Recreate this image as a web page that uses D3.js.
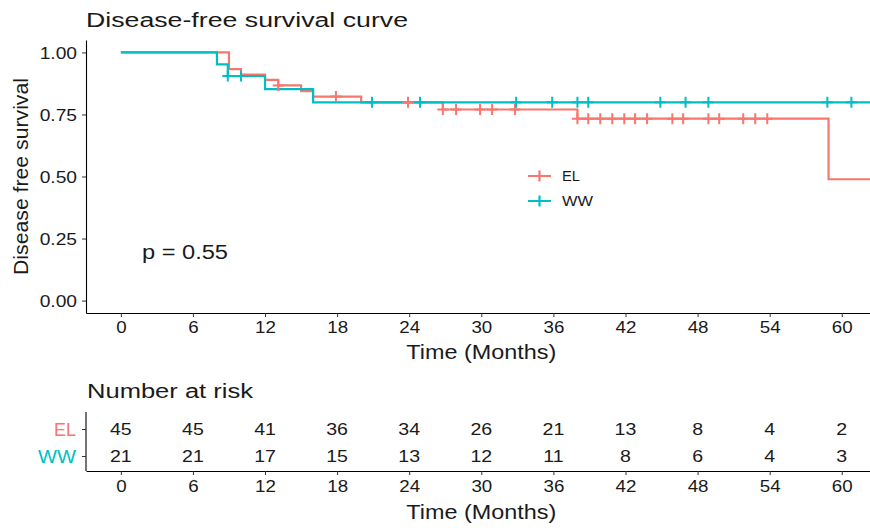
<!DOCTYPE html>
<html><head><meta charset="utf-8">
<script src="https://cdn.jsdelivr.net/npm/d3@7"></script>
<style>body{margin:0;background:#fff}svg{display:block}text{font-family:"Liberation Sans",Arial,sans-serif}</style>
</head><body>
<svg id="c" width="870" height="531"></svg>
<script>
// ---- data ----
const groups = ["EL", "WW"];
const colors = ["#F8766D", "#00BFC4"];
const elTimes = [0, 9, 10, 12, 13.1, 15, 16, 20, 26.8, 38, 58.9];
const elSurv  = [1, 0.933, 0.911, 0.889, 0.867, 0.844, 0.822, 0.799, 0.770, 0.733, 0.489];
const wwTimes = [0, 8, 8.9, 12, 16];
const wwSurv  = [1, 0.952, 0.905, 0.852, 0.799];
const elCensor = [13.1, 17.9, 23.9, 26.8, 27.9, 29.9, 30.9, 32.8, 38, 38.9, 39.9, 40.9, 41.9, 42.8, 43.8, 45.9, 46.8, 48.9, 49.8, 51.8, 52.8, 53.8];
const wwCensor = [8.9, 10, 20.9, 24.9, 32.9, 35.9, 38, 38.9, 44.9, 47, 48.9, 58.8, 60.8];
const riskTimes = [0, 6, 12, 18, 24, 30, 36, 42, 48, 54, 60];
const elRisk = [45, 45, 41, 36, 34, 26, 21, 13, 8, 4, 2];
const wwRisk = [21, 21, 17, 15, 13, 12, 11, 8, 6, 4, 3];
const yTicks = [0, 0.25, 0.5, 0.75, 1];
const tEnd = 62.5;
const pText = "p = 0.55";

const svg = d3.select("#c");
const L = 86, R = 870, T = 40, B = 313;
const x = d3.scaleLinear().domain([-2.9, 62.35]).range([L, R]);
const y = d3.scaleLinear().domain([-0.05, 1.05]).range([B, T]);
const ink = "#1a1a1a";

// stretch text horizontally to mimic the wider reference rendering
function stretch(sel, k) {
  sel.each(function () {
    const w = this.getComputedTextLength();
    d3.select(this).attr("textLength", w * k).attr("lengthAdjust", "spacingAndGlyphs");
  });
}
function txt(str, px, py, size, width, anchor) {
  return svg.append("text").attr("x", px).attr("y", py).attr("font-size", size)
    .attr("fill", ink).attr("text-anchor", anchor || "start")
    .attr("textLength", width).attr("lengthAdjust", "spacingAndGlyphs").text(str);
}

// title
txt("Disease-free survival curve", 86, 27, 19.5, 322);

// axes
const gx = svg.append("g").attr("transform", `translate(0,${B})`)
  .call(d3.axisBottom(x).tickValues(riskTimes).tickSize(4).tickPadding(5).tickSizeOuter(0));
const gy = svg.append("g").attr("transform", `translate(${L},0)`)
  .call(d3.axisLeft(y).tickValues(yTicks).tickFormat(d3.format(".2f")).tickSize(4).tickPadding(5).tickSizeOuter(0));
[gx, gy].forEach(g => {
  g.select(".domain").attr("stroke", "#000").attr("stroke-width", 1.1);
  g.selectAll(".tick line").attr("stroke", "#333");
  g.selectAll(".tick text").attr("font-size", 16).attr("fill", ink).attr("font-family", "Liberation Sans, Arial, sans-serif");
});
gy.selectAll(".tick text").attr("dy", "0.36em");
stretch(gx.selectAll(".tick text"), 1.17);
stretch(gy.selectAll(".tick text"), 1.2);
txt("Time (Months)", (x(0) + x(60)) / 2, 359, 19.5, 150, "middle");
svg.append("text").attr("transform", `translate(28,${(T + B) / 2}) rotate(-90)`)
  .attr("text-anchor", "middle").attr("font-size", 21).attr("fill", ink)
  .attr("textLength", 197).attr("lengthAdjust", "spacingAndGlyphs").text("Disease free survival");

// curves
svg.append("clipPath").attr("id", "clp").append("rect").attr("x", L).attr("y", T - 5).attr("width", R - L).attr("height", B - T + 5);
const plot = svg.append("g").attr("clip-path", "url(#clp)");
function stepPts(ts, ss) {
  const pts = ts.map((t, i) => [t, ss[i]]);
  pts.push([tEnd, ss[ss.length - 1]]);
  return pts;
}
const line = d3.line().x(d => x(d[0])).y(d => y(d[1])).curve(d3.curveStepAfter);
const series = [
  {times: elTimes, surv: elSurv, cens: elCensor, col: colors[0]},
  {times: wwTimes, surv: wwSurv, cens: wwCensor, col: colors[1]},
];
function survAt(s, t) {
  let v = s.surv[0];
  s.times.forEach((tt, i) => { if (tt <= t) v = s.surv[i]; });
  return v;
}
series.forEach(s => {
  plot.append("path").datum(stepPts(s.times, s.surv)).attr("d", line)
    .attr("fill", "none").attr("stroke", s.col).attr("stroke-width", 2.2);
});
series.forEach(s => {
  s.cens.forEach(t => {
    const cx = x(t), cy = y(survAt(s, t));
    plot.append("path").attr("d", `M${cx - 5.5},${cy}H${cx + 5.5}M${cx},${cy - 5.5}V${cy + 5.5}`)
      .attr("stroke", s.col).attr("stroke-width", 2);
  });
});

// legend
groups.forEach((g, i) => {
  const ly = 176 + i * 25;
  svg.append("path").attr("d", `M528,${ly}H551M539.5,${ly - 5.5}V${ly + 5.5}`).attr("stroke", colors[i]).attr("stroke-width", 2.2);
  txt(g, 562, ly + 5, 15, i === 0 ? 18 : 31);
});

// p value
txt(pText, 142, 259, 19.5, 86);

// risk table
txt("Number at risk", 87, 398, 20, 166);
const TB = 471, TT = 412;
const yr = d3.scalePoint().domain(groups).range([429, 456]);
const gx2 = svg.append("g").attr("transform", `translate(0,${TB})`)
  .call(d3.axisBottom(x).tickValues(riskTimes).tickSize(4).tickPadding(6).tickSizeOuter(0));
const gy2 = svg.append("g").attr("transform", `translate(${L},0)`)
  .call(d3.axisLeft(yr).tickSize(4).tickPadding(6).tickSizeOuter(0));
gy2.select(".domain").attr("d", `M0,${TT}V${TB}`);
[gx2, gy2].forEach(g => {
  g.select(".domain").attr("stroke", "#000").attr("stroke-width", 1.1);
  g.selectAll(".tick line").attr("stroke", "#333");
  g.selectAll(".tick text").attr("font-size", 16).attr("fill", ink).attr("font-family", "Liberation Sans, Arial, sans-serif");
});
stretch(gx2.selectAll(".tick text"), 1.17);
gy2.selectAll(".tick text").attr("fill", (d, i) => colors[i]).attr("font-size", 17.5).attr("dy", "0.36em")
  .attr("textLength", (d, i) => i === 0 ? 22 : 38).attr("lengthAdjust", "spacingAndGlyphs");
[elRisk, wwRisk].forEach((arr, gi) => {
  arr.forEach((v, i) => {
    const t = svg.append("text").attr("x", x(riskTimes[i])).attr("y", yr(groups[gi]) + 6)
      .attr("text-anchor", "middle").attr("font-size", 16.3).attr("fill", ink).text(v);
    stretch(t, 1.2);
  });
});
txt("Time (Months)", (x(0) + x(60)) / 2, 519, 19.5, 150, "middle");
</script>
</body></html>
